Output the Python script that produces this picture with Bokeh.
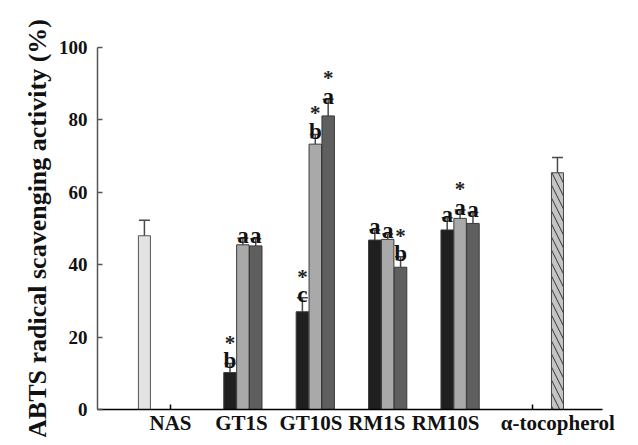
from bokeh.plotting import figure
from bokeh.models import Range1d, FixedTicker, CustomJSTickFormatter, ColumnDataSource, Whisker, TeeHead
from bokeh.core.properties import value
from bokeh.embed import file_html
from bokeh.resources import INLINE

# ---- data ----
groups = ["GT1S", "GT10S", "RM1S", "RM10S"]
s1 = [10.2, 27.0, 46.8, 49.6]
s1_err = [2.5, 3.9, 2.8, 3.4]
s1_letter = ["b", "c", "a", "a"]
s1_star = [True, True, False, False]
s2 = [45.5, 73.3, 47.0, 52.8]
s2_err = [1.8, 2.7, 1.5, 2.3]
s2_letter = ["a", "b", "a", "a"]
s2_star = [False, True, False, True]
s3 = [45.2, 81.1, 39.3, 51.4]
s3_err = [2.0, 4.6, 2.9, 3.0]
s3_letter = ["a", "a", "b", "a"]
s3_star = [False, True, True, False]
nas_val = [48.0]
nas_err = [4.3]
toc_val = [65.4]
toc_err = [4.2]
x_labels = ["NAS", "GT1S", "GT10S", "RM1S", "RM10S", "\u03b1-tocopherol"]
y_ticks = [0, 20, 40, 60, 80, 100]

# ---- layout constants ----
label_pos = [0.0, 0.98, 1.94, 2.85, 3.80, 5.35]
offsets = [-0.178, 0.0, 0.178]
bar_w = 0.172
nas_x = -0.36
toc_x = 5.345
FONT = value("Liberation Serif")

p = figure(width=630, height=437, x_range=Range1d(-1.008, 5.967), y_range=Range1d(0, 100),
           output_backend="svg", toolbar_location=None,
           min_border_left=97, min_border_right=28, min_border_top=47, min_border_bottom=27)
p.outline_line_color = None
p.xgrid.visible = False
p.ygrid.visible = False

series = [
    (s1, s1_err, s1_letter, s1_star, "#1f1f1f"),
    (s2, s2_err, s2_letter, s2_star, "#a9a9a9"),
    (s3, s3_err, s3_letter, s3_star, "#5f5f5f"),
]

for k, (vals, errs, letters, stars, color) in enumerate(series):
    xs = [i + 1 + offsets[k] for i in range(len(groups))]
    src = ColumnDataSource(dict(x=xs, top=vals, up=[v + e for v, e in zip(vals, errs)],
                                letter=letters,
                                star=["*" if s else "" for s in stars]))
    p.vbar(x="x", top="top", bottom=0, width=bar_w, source=src,
           fill_color=color, line_color="#3a3a3a", line_width=1)
    p.add_layout(Whisker(base="x", lower="top", upper="up", source=src,
                         line_color="#4a4a4a", line_width=1.5, lower_head=None,
                         upper_head=TeeHead(size=11, line_color="#4a4a4a", line_width=1.5)))
    p.text(x="x", y="up", text="letter", source=src, text_font=FONT, text_font_style="bold",
           text_font_size="23px", text_align="center", text_baseline="alphabetic",
           y_offset=-3, text_color="#111111")
    p.text(x="x", y="up", text="star", source=src, text_font=FONT, text_font_style="bold",
           text_font_size="21px", text_align="center", text_baseline="alphabetic",
           y_offset=-21, text_color="#222222")

# NAS bar
nas_src = ColumnDataSource(dict(x=[nas_x], top=nas_val, up=[v + e for v, e in zip(nas_val, nas_err)]))
p.vbar(x="x", top="top", bottom=0, width=0.166, source=nas_src,
       fill_color="#e2e2e2", line_color="#555555", line_width=1)
p.add_layout(Whisker(base="x", lower="top", upper="up", source=nas_src,
                     line_color="#4a4a4a", line_width=1.5, lower_head=None,
                     upper_head=TeeHead(size=11, line_color="#4a4a4a", line_width=1.5)))

# alpha-tocopherol bar
toc_src = ColumnDataSource(dict(x=[toc_x], top=toc_val, up=[v + e for v, e in zip(toc_val, toc_err)]))
p.vbar(x="x", top="top", bottom=0, width=0.166, source=toc_src,
       fill_color="#c4c4c4", line_color="#444444", line_width=1,
       hatch_pattern="left_diagonal_line", hatch_color="#333333", hatch_scale=13, hatch_weight=1)
p.add_layout(Whisker(base="x", lower="top", upper="up", source=toc_src,
                     line_color="#4a4a4a", line_width=1.5, lower_head=None,
                     upper_head=TeeHead(size=11, line_color="#4a4a4a", line_width=1.5)))

# axes
xa = p.xaxis[0]
xa.ticker = FixedTicker(ticks=label_pos, minor_ticks=[0, 5])
xa.formatter = CustomJSTickFormatter(args=dict(pos=label_pos, labs=x_labels), code="""
let best = 0; let d = 1e9;
for (let i = 0; i < pos.length; i++) { const dd = Math.abs(pos[i] - tick); if (dd < d) { d = dd; best = i; } }
return labs[best];
""")
xa.major_tick_in = 0
xa.major_tick_out = 0
xa.minor_tick_in = 5
xa.minor_tick_out = 0
xa.minor_tick_line_color = "#000000"
xa.minor_tick_line_width = 1.5
xa.axis_line_color = "#000000"
xa.axis_line_width = 1.5
xa.major_label_text_font = "Liberation Serif"
xa.major_label_text_font_style = "bold"
xa.major_label_text_font_size = "21px"
xa.major_label_text_color = "#111111"
xa.major_label_standoff = 1

ya = p.yaxis[0]
ya.ticker = FixedTicker(ticks=y_ticks, minor_ticks=[])
ya.major_tick_in = 5
ya.major_tick_out = 0
ya.major_tick_line_color = "#555555"
ya.major_tick_line_width = 1.5
ya.axis_line_color = "#555555"
ya.axis_line_width = 1.5
ya.major_label_text_font = "Liberation Serif"
ya.major_label_text_font_style = "bold"
ya.major_label_text_font_size = "19px"
ya.major_label_text_color = "#111111"
ya.major_label_standoff = 10
ya.axis_label = "ABTS radical scavenging activity (%)"
ya.axis_label_text_font = "Liberation Serif"
ya.axis_label_text_font_style = "bold"
ya.axis_label_text_font_size = "26px"
ya.axis_label_text_color = "#111111"
ya.axis_label_standoff = 4

open("out.html", "w").write(file_html(p, INLINE))
